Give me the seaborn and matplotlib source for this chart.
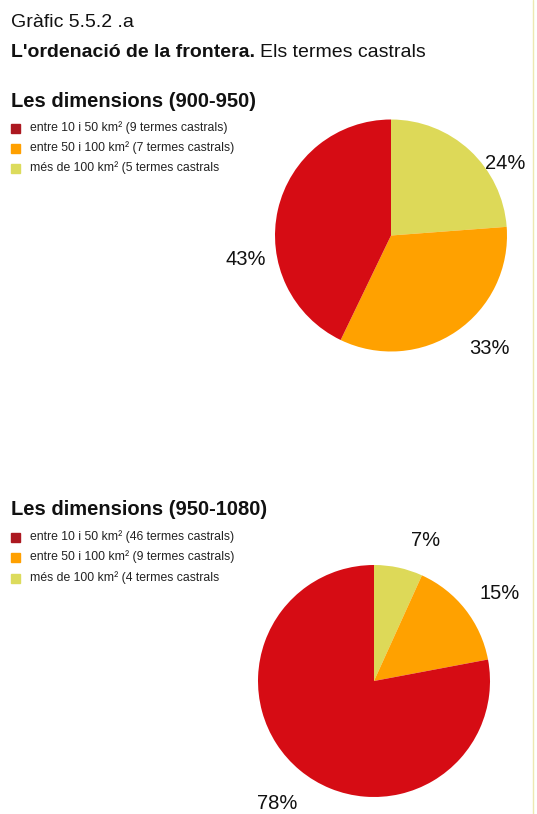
import matplotlib
matplotlib.use("Agg")
import matplotlib.pyplot as plt
from matplotlib.patches import Rectangle
from matplotlib.lines import Line2D
import seaborn as sns

# ---- data ----
categories = ["entre 10 i 50 km²", "entre 50 i 100 km²", "més de 100 km²"]
counts_900_950 = [9, 7, 5]
counts_950_1080 = [46, 9, 4]
legend_1 = ["entre 10 i 50 km² (9 termes castrals)",
            "entre 50 i 100 km² (7 termes castrals)",
            "més de 100 km² (5 termes castrals"]
legend_2 = ["entre 10 i 50 km² (46 termes castrals)",
            "entre 50 i 100 km² (9 termes castrals)",
            "més de 100 km² (4 termes castrals"]
title_1 = "Les dimensions (900-950)"
title_2 = "Les dimensions (950-1080)"

pie_colors = ["#D60C14", "#FFA100", "#DDD958"]
legend_colors = ["#AC1820", "#FFA000", "#DCDB5C"]

sns.set_theme(style="white")
FAM = ["Liberation Sans Narrow", "Liberation Sans", "DejaVu Sans"]
plt.rcParams["font.family"] = FAM

W, H = 537, 814
fig = plt.figure(figsize=(W / 100, H / 100), dpi=100)
fig.patch.set_facecolor("white")


def fx(x):
    return x / W


def fy(y):
    return 1 - y / H


fig.text(fx(11), fy(27), "Gràfic 5.5.2 .a", fontsize=14, color="#111111", va="baseline")
t = fig.text(fx(11), fy(57), "L'ordenació de la frontera.", fontsize=14, fontweight="bold",
             color="#111111", va="baseline")
fig.canvas.draw()
bb = t.get_window_extent()
fig.text(bb.x1 / W + fx(5), fy(57), "Els termes castrals", fontsize=14, color="#111111", va="baseline")


def draw_block(title_y, legend_ys, title, labels, counts, center, pct_pos, start_order):
    fig.text(fx(11), fy(title_y), title, fontsize=14.5, fontweight="bold", color="#111111",
             va="baseline")
    for yy, lab, col in zip(legend_ys, labels, legend_colors):
        fig.patches.append(Rectangle((fx(11), fy(yy + 4.5)), fx(9), 9 / H, color=col,
                                     transform=fig.transFigure, figure=fig))
        fig.text(fx(30), fy(yy), lab, fontsize=8.8, color="#222222", va="center")

    cx, cy = center
    r = 116
    ax = fig.add_axes([fx(cx - r), fy(cy + r), 2 * r / W, 2 * r / H])
    # drawn clockwise from 12 o'clock: yellow, orange, red
    order = start_order
    vals = [counts[i] for i in order]
    cols = [pie_colors[i] for i in order]
    ax.pie(vals, colors=cols, startangle=90, counterclock=False,
           wedgeprops=dict(linewidth=0))
    ax.set_xlim(-1, 1)
    ax.set_ylim(-1, 1)
    ax.set_aspect("equal")
    ax.axis("off")
    total = sum(counts)
    for i, (px, py, ha) in pct_pos.items():
        ax.text(px, py, f"{round(100 * counts[i] / total)}%", fontsize=14.5, color="#111111",
                ha=ha, va="center", clip_on=False)


draw_block(107, [128, 148, 168], title_1, legend_1, counts_900_950, (391, 235.5),
           {0: (-1.25, -0.211, "center"), 1: (0.853, -0.974, "center"), 2: (0.81, 0.625, "left")},
           [2, 1, 0])
draw_block(515, [537, 557, 578], title_2, legend_2, counts_950_1080, (374, 681),
           {0: (-0.832, -1.056, "center"), 1: (1.086, 0.754, "center"), 2: (0.448, 1.207, "center")},
           [2, 1, 0])

fig.add_artist(Line2D([fx(533), fx(533)], [0, 1], color="#ECE9B0", lw=1,
                      transform=fig.transFigure))

fig.savefig("out.png", dpi=100, facecolor="white")
